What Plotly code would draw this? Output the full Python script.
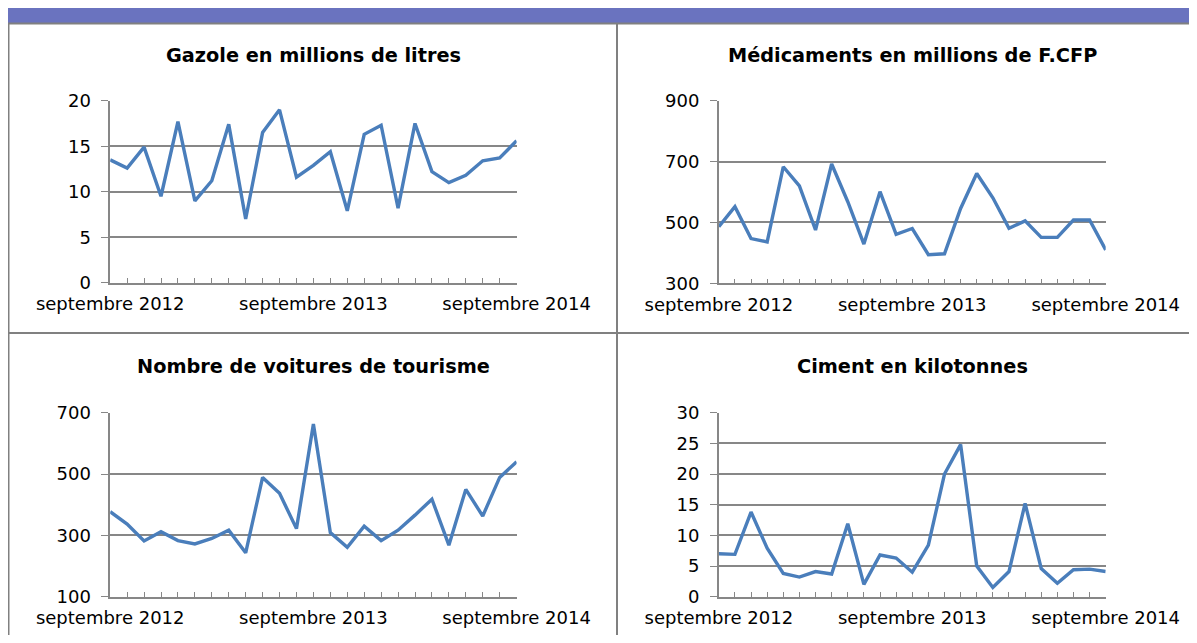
import plotly.graph_objects as go

# The page body has an 8px margin; lay out in window pixels and convert.
VW, VH = 1197, 643
OX, OY = 8, 8
W, H = VW - OX, VH - 2 * OY

months = [
    "septembre 2012", "octobre 2012", "novembre 2012", "décembre 2012",
    "janvier 2013", "février 2013", "mars 2013", "avril 2013", "mai 2013",
    "juin 2013", "juillet 2013", "août 2013", "septembre 2013",
    "octobre 2013", "novembre 2013", "décembre 2013", "janvier 2014",
    "février 2014", "mars 2014", "avril 2014", "mai 2014", "juin 2014",
    "juillet 2014", "août 2014", "septembre 2014",
]

gazole = [13.5, 12.6, 14.9, 9.5, 17.7, 9.0, 11.2, 17.4, 7.0, 16.5, 19.0, 11.6,
          12.9, 14.4, 7.9, 16.3, 17.3, 8.2, 17.5, 12.2, 11.0, 11.8, 13.4, 13.7, 15.6]
medicaments = [486, 552, 447, 436, 683, 620, 475, 692, 568, 429, 601, 461,
               480, 394, 397, 546, 661, 581, 481, 505, 451, 451, 508, 508, 410]
voitures = [377, 337, 282, 312, 283, 272, 290, 317, 243, 489, 437, 322,
            663, 309, 261, 330, 283, 317, 366, 418, 268, 450, 363, 489, 540]
ciment = [7.0, 6.9, 13.8, 7.9, 3.8, 3.2, 4.1, 3.7, 11.9, 2.0, 6.8, 6.3,
          4.0, 8.4, 20.0, 24.8, 5.0, 1.5, 4.1, 15.2, 4.6, 2.2, 4.4, 4.5, 4.1]

titles = ["Gazole en millions de litres", "Médicaments en millions de F.CFP",
          "Nombre de voitures de tourisme", "Ciment en kilotonnes"]
y_ranges = [(0, 20), (300, 900), (100, 700), (0, 30)]
y_dticks = [5, 200, 200, 5]
series = [gazole, medicaments, voitures, ciment]

# plot area boxes in window pixels: (x_left, x_right, y_top, y_bottom)
boxes = [(110.2, 516.6, 100.7, 282.7), (718.8, 1105.7, 100.7, 283.3),
         (110.2, 516.6, 412.7, 596.7), (718.8, 1105.7, 412.7, 596.7)]
title_y = [56, 56, 367, 367]

tick_text = [m if m.startswith("septembre") else "" for m in months]

FONT = "DejaVu Sans"
LINE_COLOR = "#4A7EBB"
GRID = "#878787"


def px_x(v):
    return (v - OX) / W


def px_y(v):
    return 1 - (v - OY) / H


fig = go.Figure()
annotations = []
for i in range(4):
    n = "" if i == 0 else str(i + 1)
    xl, xr, yt, yb = boxes[i]
    fig.add_trace(go.Scatter(
        x=months, y=series[i], mode="lines",
        line=dict(color=LINE_COLOR, width=3.4),
        xaxis="x" + n, yaxis="y" + n, showlegend=False,
    ))
    fig.layout["xaxis" + n] = dict(
        domain=[px_x(xl), px_x(xr)], anchor="y" + n, type="category",
        range=[0, len(months) - 1], tickmode="array",
        tickvals=months, ticktext=tick_text,
        ticks="inside", ticklen=5, tickwidth=1.3, tickcolor=GRID,
        showline=True, linecolor=GRID, linewidth=1.5,
        showgrid=False, zeroline=False, automargin=False,
        tickfont=dict(family=FONT, size=18, color="#000"),
        ticklabelstandoff=4, fixedrange=True,
    )
    fig.layout["yaxis" + n] = dict(
        domain=[px_y(yb), px_y(yt)], anchor="x" + n,
        range=list(y_ranges[i]), dtick=y_dticks[i], tick0=y_ranges[i][0],
        ticks="outside", ticklen=7, tickwidth=1.3, tickcolor=GRID,
        showline=True, linecolor=GRID, linewidth=1.5,
        showgrid=True, gridcolor=GRID, gridwidth=1.5, zeroline=False,
        automargin=False,
        tickfont=dict(family=FONT, size=18, color="#000"),
        ticklabelstandoff=7, fixedrange=True,
    )
    annotations.append(dict(
        text="<b>" + titles[i] + "</b>", xref="paper", yref="paper",
        x=px_x((xl + xr) / 2), y=px_y(title_y[i]), xanchor="center",
        yanchor="middle", showarrow=False,
        font=dict(family=FONT, size=19.3, color="#000"),
    ))

BORDER = "#808080"
shapes = [
    dict(type="rect", xref="paper", yref="paper", x0=0, x1=1,
         y0=px_y(23), y1=1, fillcolor="#6A73BF", line=dict(width=0),
         layer="below"),
    dict(type="line", xref="paper", yref="paper", x0=0, x1=1,
         y0=px_y(23.5), y1=px_y(23.5), line=dict(color=BORDER, width=2)),
    dict(type="line", xref="paper", yref="paper", x0=px_x(8.5), x1=px_x(8.5),
         y0=px_y(23), y1=0, line=dict(color=BORDER, width=2)),
    dict(type="line", xref="paper", yref="paper", x0=px_x(617), x1=px_x(617),
         y0=px_y(23), y1=0, line=dict(color=BORDER, width=2)),
    dict(type="line", xref="paper", yref="paper", x0=px_x(8), x1=1,
         y0=px_y(333), y1=px_y(333), line=dict(color=BORDER, width=2)),
]

fig.update_layout(
    width=W, height=H, autosize=False,
    margin=dict(l=0, r=0, t=0, b=0, pad=0, autoexpand=False),
    paper_bgcolor="white", plot_bgcolor="white",
    annotations=annotations, shapes=shapes,
    font=dict(family=FONT, size=18, color="#000"),
)

fig.write_html("out.html")
